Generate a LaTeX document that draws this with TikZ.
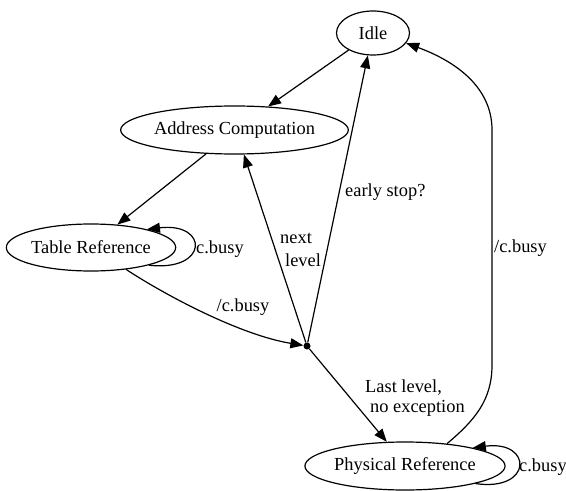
\documentclass[tikz,border=0pt]{standalone}
\usepackage{fontspec}
\setmainfont{Liberation Serif}
\usetikzlibrary{shapes.geometric,arrows.meta}
\begin{document}
\begin{tikzpicture}[x=1bp,y=-1bp,
  state/.style={draw,ellipse,line width=1.2bp,inner sep=0pt},
  junction/.style={circle,fill,inner sep=0pt,minimum size=7bp},
  arr/.style={line width=1.2bp,-{Triangle[length=13bp,width=10bp]}},
  lbl/.style={inner sep=0pt,font=\fontsize{18.4bp}{21bp}\selectfont},
  every node/.append style={font=\fontsize{18.4bp}{21bp}\selectfont}]
\useasboundingbox (0,0) rectangle (566,491);

% states
\node[state,minimum width=73bp,minimum height=44bp]  (idle) at (373,33)    {Idle};
\node[state,minimum width=201bp,minimum height=48bp] (ac)   at (234.5,130) {Address Computation};
\node[state,minimum width=162bp,minimum height=47bp] (tr)   at (91,247.5)  {Table Reference};
\node[state,minimum width=176bp,minimum height=48bp] (pr)   at (405,466)   {Physical Reference};
\node[junction] (pt) at (307,346) {};

% transitions
\draw[arr] (idle.215) -- (ac.35);
\draw[arr] (ac.220) -- (tr.41);
\draw[arr] (tr.-17) .. controls (209,272) and (209,222) .. (tr.18);
\draw[arr] (tr.-32) .. controls (165,295) and (240,335) .. (pt);
\draw[arr] (pt) -- (ac.-69);
\draw[arr] (pt) -- (idle.257);
\draw[arr] (pt) -- (pr.127);
\draw[arr] (pr.-14) .. controls (533,492) and (533,440) .. (pr.15);
\draw[arr] (pr.28) .. controls (475,420) and (492,400) .. (492,365)
  -- (492,130) .. controls (492,85) and (452,60) .. (idle.-17);

% labels
\node[lbl,anchor=west] (l1) at (196,249) {c.busy};
\node[lbl] (l2) at (243,307) {/c.busy};
\node[lbl,anchor=west] (l3) at (280,238) {next};
\node[lbl,anchor=west] (l4) at (285,260) {level};
\node[lbl,anchor=west] (l5) at (345,192) {early stop?};
\node[lbl,anchor=west] (l6) at (365,388) {Last level,};
\node[lbl,anchor=west] (l7) at (370,408) {no exception};
\node[lbl,anchor=west] (l8) at (494,248) {/c.busy};
\node[lbl,anchor=west] (l9) at (519,467) {c.busy};
\end{tikzpicture}
\end{document}
